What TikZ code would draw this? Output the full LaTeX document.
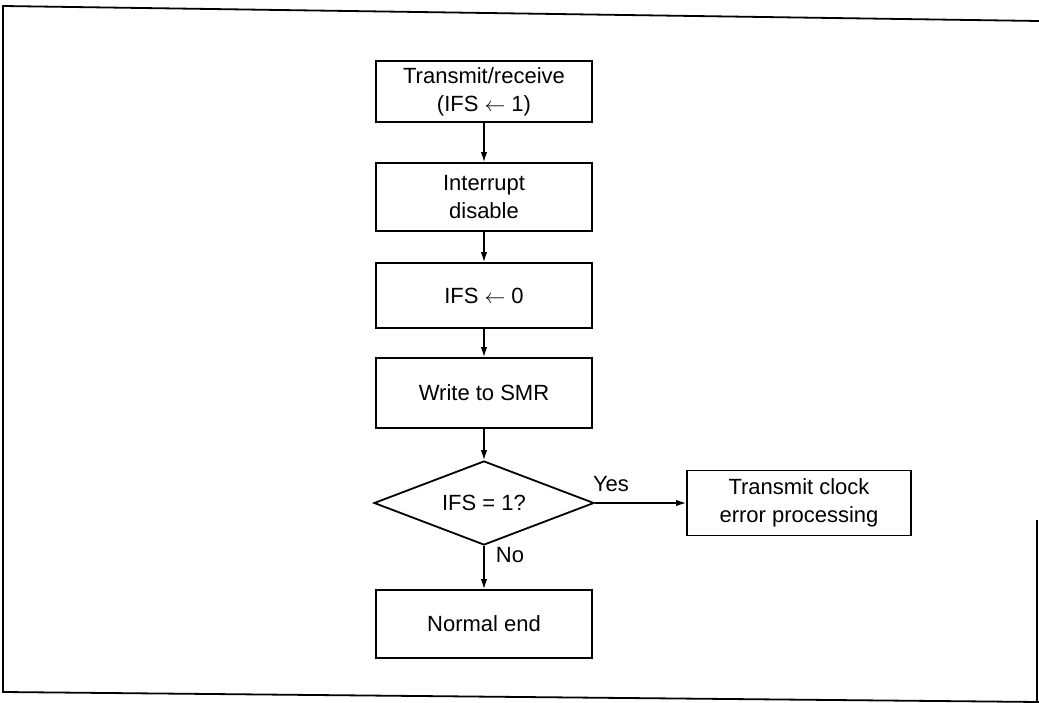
\documentclass[tikz,border=0pt]{standalone}
\usepackage{fontspec}
\setmainfont{Liberation Sans}
\usetikzlibrary{arrows.meta,shapes.geometric}
\begin{document}
\begin{tikzpicture}[x=1pt,y=-1pt,
  box/.style={draw,line width=1.8pt,minimum width=216pt,inner sep=0pt,align=center,
    font=\fontsize{22}{28}\selectfont},
  dec/.style={draw,shape=diamond,aspect=2.62,line width=1.8pt,minimum width=220pt,
    minimum height=84pt,inner sep=0pt,font=\fontsize{22}{28}\selectfont},
  flow/.style={line width=1.4pt,-{Latex[length=10pt,width=6.5pt]}},
  lbl/.style={font=\fontsize{22}{26}\selectfont,inner sep=0pt},
  frame/.style={line width=1.8pt}]
\useasboundingbox (0,0) rectangle (1039,703);
% outer frame
\draw[frame] (1039,21) -- (3,6) -- (3,692) -- (1039,702);
\draw[frame] (1037,520) -- (1037,703);
% nodes
\node[box,minimum height=61pt] (tr) at (484,91.5) {Transmit/receive\\(IFS $\leftarrow$ 1)};
\node[box,minimum height=68pt] (id) at (484,197) {Interrupt\\disable};
\node[box,minimum height=65pt] (ifs) at (484,295.5) {IFS $\leftarrow$ 0};
\node[box,minimum height=70pt] (smr) at (484,393) {Write to SMR};
\node[dec] (q) at (484,503) {IFS = 1?};
\node[box,minimum height=68pt] (ne) at (484,624) {Normal end};
\node[box,minimum width=224pt,minimum height=65pt] (err) at (799,503) {Transmit clock\\error processing};
% connectors
\draw[flow] (tr) -- (id);
\draw[flow] (id) -- (ifs);
\draw[flow] (ifs) -- (smr);
\draw[flow] (smr) -- (q);
\draw[flow] (q.east) -- (err.west);
\draw[flow] (q.south) -- (ne);
% labels
\node[lbl] (yes) at (611,484) {Yes};
\node[lbl] (no) at (510,555) {No};
\end{tikzpicture}
\end{document}
